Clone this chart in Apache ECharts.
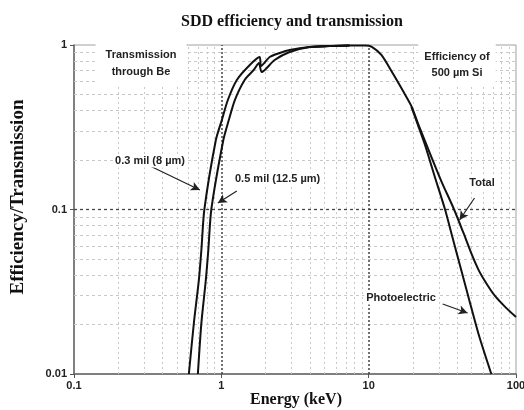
<!DOCTYPE html>
<html>
<head>
<meta charset="utf-8">
<script src="https://cdn.jsdelivr.net/npm/echarts@6/dist/echarts.min.js"></script>
<style>html,body{margin:0;padding:0;background:#fff;}#c{width:524px;height:410px;}</style>
</head>
<body>
<div id="c"></div>
<script>
// ---- data (Energy keV, value) ----
const be03 = [[0.602,0.01],[0.651,0.0204],[0.704,0.0373],[0.732,0.0567],[0.767,0.1],[0.918,0.2645],[1.008,0.35],[1.107,0.463],[1.274,0.613],[1.56,0.756],[1.82,0.845],[1.86,0.745],[2.13,0.845],[2.49,0.894],[2.91,0.932],[3.98,0.972],[5.44,0.986],[7.4,0.993]];
const be05 = [[0.693,0.01],[0.732,0.0204],[0.785,0.0373],[0.816,0.0567],[0.855,0.1],[1.032,0.2645],[1.124,0.35],[1.235,0.463],[1.44,0.613],[1.66,0.705],[1.80,0.777],[1.88,0.685],[2.30,0.81],[2.91,0.907],[3.98,0.972],[5.44,0.986],[7.4,0.993]];
const total = [[3.98,0.972],[5.44,0.986],[7.4,0.993],[9.5,0.993],[10.5,0.975],[12.2,0.87],[14.6,0.67],[17,0.53],[19.5,0.425],[22,0.32],[25.5,0.23],[31,0.15],[38,0.1],[44,0.072],[50,0.0535],[56,0.0425],[63,0.0355],[72,0.0298],[85,0.0254],[100,0.0222]];
const photo = [[19.5,0.42],[21.5,0.33],[24,0.25],[28,0.16],[33,0.1],[37,0.068],[42,0.0445],[48,0.0285],[56,0.0172],[68,0.01]];
const xMinor = [0.2,0.3,0.4,0.5,0.6,0.7,0.8,0.9,2,3,4,5,6,7,8,9,20,30,40,50,60,70,80,90];
const yMinor = [0.02,0.03,0.04,0.05,0.06,0.07,0.08,0.09,0.2,0.3,0.4,0.5,0.6,0.7,0.8,0.9];
const xMajor = [1,10];
const yMajor = [0.1];
const arrows = [
  [[0.318,0.1865],[0.715,0.1314]],
  [[1.274,0.1296],[0.947,0.1095]],
  [[52.3,0.1175],[41.4,0.0863]],
  [[31.8,0.02665],[46.9,0.0235]]
];

const fmt = v => v >= 1 ? String(Math.round(v)) : String(+v.toFixed(2));
const lbl = {fontFamily:'Liberation Sans, Arial', fontWeight:'bold', fontSize:11, color:'#222'};
const lineStyle = {color:'#111', width:2};
const sm = {smooth:0.25};

const gridLines = [];
xMinor.forEach(v => gridLines.push({xAxis:v, lineStyle:{color:'#c8c8c8', type:[2,3], width:1}}));
yMinor.forEach(v => gridLines.push({yAxis:v, lineStyle:{color:'#c8c8c8', type:[3,3], width:1}}));
xMajor.forEach(v => gridLines.push({xAxis:v, lineStyle:{color:'#444', type:[2,2], width:1.5}}));
yMajor.forEach(v => gridLines.push({yAxis:v, lineStyle:{color:'#444', type:[3,3], width:1.3}}));

const txt = 'bold 11px Liberation Sans, Arial';
const chart = echarts.init(document.getElementById('c'));
chart.setOption({
  animation:false,
  backgroundColor:'#fff',
  title:{text:'SDD efficiency and transmission', left:287, top:9, textAlign:'center',
    textStyle:{fontFamily:'Liberation Serif, Times New Roman', fontWeight:'bold', fontSize:16, color:'#111'}},
  grid:{left:74, right:8, top:45, bottom:36, show:true, borderColor:'#a0a0a0', borderWidth:1,
    containLabel:false, outerBoundsMode:'none'},
  xAxis:{type:'log', logBase:10, min:0.1, max:100,
    axisLine:{show:true, lineStyle:{color:'#666', width:1.5}},
    axisTick:{show:true, length:4, lineStyle:{color:'#555'}},
    axisLabel:Object.assign({formatter:fmt, margin:6, showMaxLabel:true, hideOverlap:false}, lbl),
    splitLine:{show:false}, minorTick:{show:false}, minorSplitLine:{show:false}},
  yAxis:{type:'log', logBase:10, min:0.01, max:1,
    axisLine:{show:true, lineStyle:{color:'#666', width:1.5}},
    axisTick:{show:true, length:4, lineStyle:{color:'#555'}},
    axisLabel:Object.assign({formatter:fmt, margin:7}, lbl),
    splitLine:{show:false}, minorTick:{show:false}, minorSplitLine:{show:false}},
  series:[
    {type:'line', data:[], z:1, silent:true,
      markLine:{silent:true, symbol:['none','none'], label:{show:false}, animation:false, data:gridLines}},
    Object.assign({type:'line', name:'0.3 mil', data:be03, showSymbol:false, lineStyle, z:5}, sm),
    Object.assign({type:'line', name:'0.5 mil', data:be05, showSymbol:false, lineStyle, z:5}, sm),
    Object.assign({type:'line', name:'Total', data:total, showSymbol:false, lineStyle, z:5}, sm),
    Object.assign({type:'line', name:'Photoelectric', data:photo, showSymbol:false, lineStyle, z:5}, sm),
    {type:'line', data:[], z:6, silent:true,
      markLine:{silent:true, symbol:['none','arrow'], symbolSize:[7,9], label:{show:false}, animation:false,
        lineStyle:{color:'#222', width:1.2, type:'solid'},
        data:arrows.map(a => [{coord:a[0]},{coord:a[1]}])}}
  ],
  graphic:[
    {type:'text', x:18, y:197, rotation:Math.PI/2, z:10, style:{text:'Efficiency/Transmission', align:'center', verticalAlign:'middle', font:'bold 19px Liberation Serif, Times New Roman', fill:'#111'}},
    {type:'text', x:296, y:400, z:10, style:{text:'Energy (keV)', align:'center', verticalAlign:'middle', font:'bold 16px Liberation Serif, Times New Roman', fill:'#111'}},
    {type:'text', x:141, y:63, z:10, style:{text:'Transmission\nthrough Be', align:'center', verticalAlign:'middle', lineHeight:17, backgroundColor:'#fff', padding:[4,10,6,10], font:txt, fill:'#222'}},
    {type:'text', x:457, y:65, z:10, style:{text:'Efficiency of\n500 µm Si', align:'center', verticalAlign:'middle', lineHeight:16, backgroundColor:'#fff', padding:[4,6,6,6], font:txt, fill:'#222'}},
    {type:'text', x:150, y:161, z:10, style:{text:'0.3 mil (8 µm)', align:'center', verticalAlign:'middle', backgroundColor:'#fff', padding:[1,2], font:txt, fill:'#222'}},
    {type:'text', x:233, y:179, z:10, style:{text:'0.5 mil (12.5 µm)', align:'left', verticalAlign:'middle', backgroundColor:'#fff', padding:[1,2], font:txt, fill:'#222'}},
    {type:'text', x:482, y:183, z:10, style:{text:'Total', align:'center', verticalAlign:'middle', backgroundColor:'#fff', padding:[1,2], font:txt, fill:'#222'}},
    {type:'text', x:401, y:298, z:10, style:{text:'Photoelectric', align:'center', verticalAlign:'middle', backgroundColor:'#fff', padding:[1,2], font:txt, fill:'#222'}}
  ]
});
</script>
</body>
</html>
